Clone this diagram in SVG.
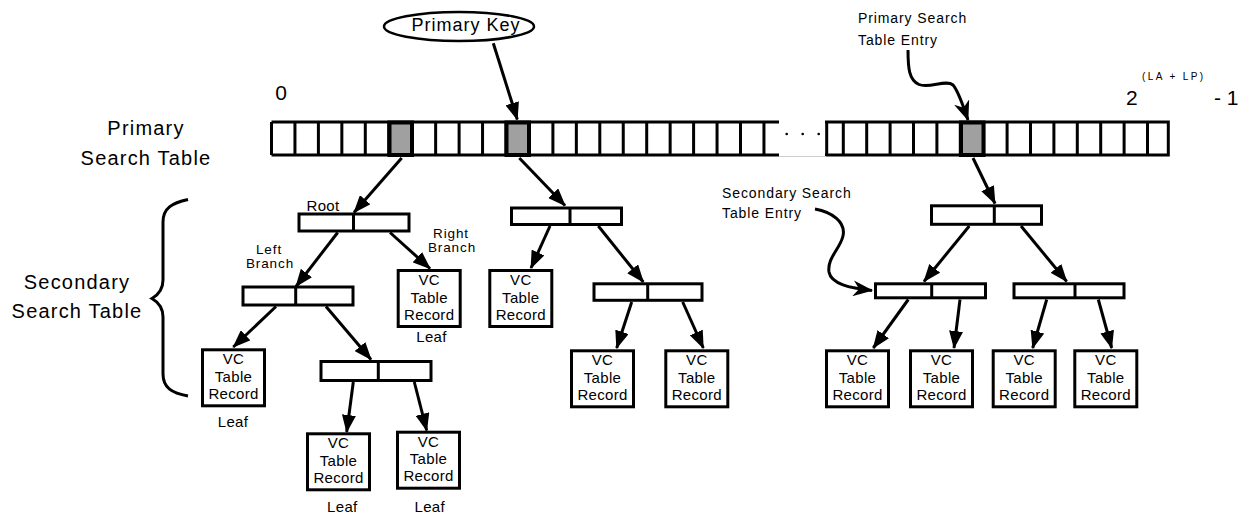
<svg xmlns="http://www.w3.org/2000/svg" width="1244" height="517" viewBox="0 0 1244 517">
  <style>
    .t { font-family: "Liberation Sans", Arial, Helvetica, sans-serif; fill: #000; }
    .big { font-size: 20px; letter-spacing: 1.2px; }
    .num { font-size: 21px; }
    .sm { font-size: 15px; letter-spacing: 0.3px; }
    .br { font-size: 13.5px; letter-spacing: 0.9px; }
    .note { font-size: 14px; letter-spacing: 0.9px; }
    .grid { fill: none; stroke: #000; stroke-width: 3; }
    .hit { fill: #a0a0a0; stroke: #000; stroke-width: 4; }
    .node { fill: #fff; stroke: #000; stroke-width: 3; }
    .edge { fill: none; stroke: #000; stroke-width: 3; marker-end: url(#tri); }
    .curl { fill: none; stroke: #000; stroke-width: 3; marker-end: url(#barb); }
  </style>
  <defs>
    <marker id="tri" markerUnits="userSpaceOnUse" markerWidth="18" markerHeight="14" refX="17" refY="7" orient="auto">
      <path d="M0,0 L18,7 L0,14 z" fill="#000"/>
    </marker>
    <marker id="barb" markerUnits="userSpaceOnUse" markerWidth="20" markerHeight="16" refX="19" refY="8" orient="auto">
      <path d="M0,0 L20,8 L0,16 L6,8 z" fill="#000"/>
    </marker>
    <g id="vc">
      <rect class="node" x="1.5" y="1.5" width="62" height="56"/>
      <text class="t sm" x="32.5" y="16" text-anchor="middle">VC</text>
      <text class="t sm" x="32.5" y="33.5" text-anchor="middle">Table</text>
      <text class="t sm" x="32.5" y="50.5" text-anchor="middle">Record</text>
    </g>
  </defs>

  <rect width="1244" height="517" fill="#fff"/>

  <!-- labels of the primary and secondary tables -->
  <g id="primary-table-label">
    <text class="t big" x="146" y="135" text-anchor="middle">Primary</text>
    <text class="t big" x="146" y="165" text-anchor="middle">Search Table</text>
  </g>
  <g id="secondary-table-label">
    <text class="t big" x="77" y="289" text-anchor="middle">Secondary</text>
    <text class="t big" x="77" y="318" text-anchor="middle">Search Table</text>
    <path class="grid" d="M188,199.5 C172,203 163,208 163,222 L163,280 C163,290 158,295 152,298.5 C158,302 163,307 163,317 L163,374 C163,388 172,393 188,396"/>
  </g>

  <!-- index range -->
  <g id="index-range">
    <text class="t num" x="281" y="100" text-anchor="middle">0</text>
    <text class="t num" x="1126" y="105">2</text>
    <text class="t" x="1142" y="80" style="font-size:10px;letter-spacing:2.4px">(LA + LP)</text>
    <text class="t num" x="1214" y="105">- 1</text>
  </g>

  <!-- primary key -->
  <g id="primary-key">
    <ellipse cx="459" cy="26.5" rx="75" ry="14.5" fill="#fff" stroke="#000" stroke-width="2.5"/>
    <text class="t" x="466" y="31" text-anchor="middle" style="font-size:18px;letter-spacing:1px">Primary Key</text>
  </g>

  <!-- primary search table -->
  <g id="primary-search-table">
    <path class="grid" d="M271.5,122 H779 M271.5,155 H779
      M271.5,122 V155 M294.95,122 V155 M318.4,122 V155 M341.85,122 V155 M365.3,122 V155
      M388.75,122 V155 M412.2,122 V155 M435.65,122 V155 M459.1,122 V155 M482.55,122 V155
      M506,122 V155 M529.45,122 V155 M552.9,122 V155 M576.35,122 V155 M599.8,122 V155
      M623.25,122 V155 M646.7,122 V155 M670.15,122 V155 M693.6,122 V155 M717.05,122 V155
      M740.5,122 V155 M763.95,122 V155"/>
    <path class="grid" d="M825,122 H1168.3 V155 H825 M826.7,122 V155
      M843.3,122 V155 M866.7,122 V155 M890.1,122 V155 M913.5,122 V155 M936.9,122 V155
      M960.3,122 V155 M983.7,122 V155 M1007.1,122 V155 M1030.5,122 V155 M1053.9,122 V155
      M1077.3,122 V155 M1100.7,122 V155 M1124.1,122 V155 M1147.5,122 V155"/>
    <line x1="779" y1="156.5" x2="826" y2="156.5" stroke="#cfcfcf" stroke-width="1"/>
    <circle cx="786.7" cy="134" r="1.3" fill="#000"/>
    <circle cx="802.7" cy="134" r="1.3" fill="#000"/>
    <circle cx="818.7" cy="134" r="1.3" fill="#000"/>
    <rect class="hit" x="389.5" y="122.5" width="22.5" height="32.5"/>
    <rect class="hit" x="506.5" y="122.5" width="22.5" height="32.5"/>
    <rect class="hit" x="961" y="122.5" width="22.5" height="32.5"/>
  </g>

  <!-- entry callouts -->
  <g id="primary-entry-note">
    <text class="t note" x="858" y="22.7">Primary Search</text>
    <text class="t note" x="858" y="45">Table Entry</text>
  </g>
  <g id="secondary-entry-note">
    <text class="t note" x="722" y="198.3">Secondary Search</text>
    <text class="t note" x="722" y="218.3">Table Entry</text>
  </g>

  <!-- tree 1 -->
  <g id="tree1-root">
    <rect class="node" x="299" y="214" width="110" height="17"/>
    <line x1="353.5" y1="214" x2="353.5" y2="231" stroke="#000" stroke-width="3"/>
    <text class="t sm" x="323" y="210.5" text-anchor="middle">Root</text>
  </g>
  <g id="tree1-left">
    <rect class="node" x="243" y="287" width="110" height="18"/>
    <line x1="295.7" y1="287" x2="295.7" y2="305" stroke="#000" stroke-width="3"/>
    <text class="t br" x="269" y="253.5" text-anchor="middle">Left</text>
    <text class="t br" x="270" y="268" text-anchor="middle">Branch</text>
  </g>
  <g id="tree1-right-leaf">
    <use href="#vc" x="396.7" y="269"/>
    <text class="t br" x="451" y="237.5" text-anchor="middle">Right</text>
    <text class="t br" x="452" y="252" text-anchor="middle">Branch</text>
    <text class="t sm" x="431.5" y="342.3" text-anchor="middle">Leaf</text>
  </g>
  <g id="tree1-left-leaf">
    <use href="#vc" x="201" y="348.3"/>
    <text class="t sm" x="233" y="427.3" text-anchor="middle">Leaf</text>
  </g>
  <g id="tree1-inner">
    <rect class="node" x="321" y="361.5" width="110" height="19"/>
    <line x1="378.3" y1="361.5" x2="378.3" y2="380.5" stroke="#000" stroke-width="3"/>
  </g>
  <g id="tree1-leaf-a">
    <use href="#vc" x="306" y="432.3"/>
    <text class="t sm" x="342.3" y="511.7" text-anchor="middle">Leaf</text>
  </g>
  <g id="tree1-leaf-b">
    <use href="#vc" x="396" y="430.7"/>
    <text class="t sm" x="429.7" y="511.7" text-anchor="middle">Leaf</text>
  </g>

  <!-- tree 2 -->
  <g id="tree2-root">
    <rect class="node" x="511.5" y="208" width="110" height="16.5"/>
    <line x1="570" y1="208" x2="570" y2="224.5" stroke="#000" stroke-width="3"/>
  </g>
  <g id="tree2-leaf"><use href="#vc" x="488.3" y="269"/></g>
  <g id="tree2-inner">
    <rect class="node" x="594" y="283.8" width="108" height="16.5"/>
    <line x1="647.7" y1="283.8" x2="647.7" y2="300.3" stroke="#000" stroke-width="3"/>
  </g>
  <g id="tree2-leaf-a"><use href="#vc" x="570" y="349.3"/></g>
  <g id="tree2-leaf-b"><use href="#vc" x="664.3" y="349.3"/></g>

  <!-- tree 3 -->
  <g id="tree3-root">
    <rect class="node" x="931.5" y="205.8" width="110" height="18.5"/>
    <line x1="994.3" y1="205.8" x2="994.3" y2="224.3" stroke="#000" stroke-width="3"/>
  </g>
  <g id="tree3-left">
    <rect class="node" x="875.5" y="283.8" width="110" height="14"/>
    <line x1="931.7" y1="283.8" x2="931.7" y2="297.8" stroke="#000" stroke-width="3"/>
  </g>
  <g id="tree3-right">
    <rect class="node" x="1014" y="283.8" width="110" height="14"/>
    <line x1="1075" y1="283.8" x2="1075" y2="297.8" stroke="#000" stroke-width="3"/>
  </g>
  <g id="tree3-leaf-a"><use href="#vc" x="825" y="349.3"/></g>
  <g id="tree3-leaf-b"><use href="#vc" x="909" y="349.3"/></g>
  <g id="tree3-leaf-c"><use href="#vc" x="991.7" y="349.3"/></g>
  <g id="tree3-leaf-d"><use href="#vc" x="1073.3" y="349.3"/></g>

  <!-- connectors -->
  <g id="connectors">
    <line class="edge" x1="493.3" y1="43.3" x2="517.3" y2="119.5"/>
    <line class="edge" x1="401.7" y1="158" x2="354" y2="212.5"/>
    <line class="edge" x1="519.3" y1="158" x2="565" y2="205.5"/>
    <line class="edge" x1="973" y1="158" x2="995" y2="203.5"/>

    <line class="edge" x1="337.7" y1="232.5" x2="296" y2="286.5"/>
    <line class="edge" x1="390" y1="232.5" x2="430" y2="268.5"/>
    <line class="edge" x1="276" y1="306.5" x2="233.3" y2="347"/>
    <line class="edge" x1="326" y1="306.5" x2="371" y2="359.5"/>
    <line class="edge" x1="353.3" y1="382" x2="346.7" y2="432"/>
    <line class="edge" x1="414.3" y1="382" x2="426.7" y2="430.5"/>

    <line class="edge" x1="550" y1="226" x2="531" y2="268"/>
    <line class="edge" x1="598.3" y1="226" x2="643.3" y2="282"/>
    <line class="edge" x1="631.7" y1="302" x2="616.7" y2="348"/>
    <line class="edge" x1="682.7" y1="302" x2="703.3" y2="348"/>

    <line class="edge" x1="969.3" y1="226" x2="924" y2="281.5"/>
    <line class="edge" x1="1021" y1="226" x2="1066.7" y2="281.5"/>
    <line class="edge" x1="908.3" y1="299.5" x2="873.3" y2="348"/>
    <line class="edge" x1="960" y1="299.5" x2="954" y2="348"/>
    <line class="edge" x1="1046.7" y1="299.5" x2="1032.7" y2="348"/>
    <line class="edge" x1="1098.3" y1="299.5" x2="1111.7" y2="348"/>

    <path class="curl" d="M908,50 C908,68 909,80 919,84.5 C929,89 946,79 953,85 C959,92 963,106 968,120"/>
    <path class="curl" d="M815,209 C832,212 846,222 843,236 C840,249 827,258 829,272 C831,284 850,288 872,290.5"/>
  </g>
</svg>
